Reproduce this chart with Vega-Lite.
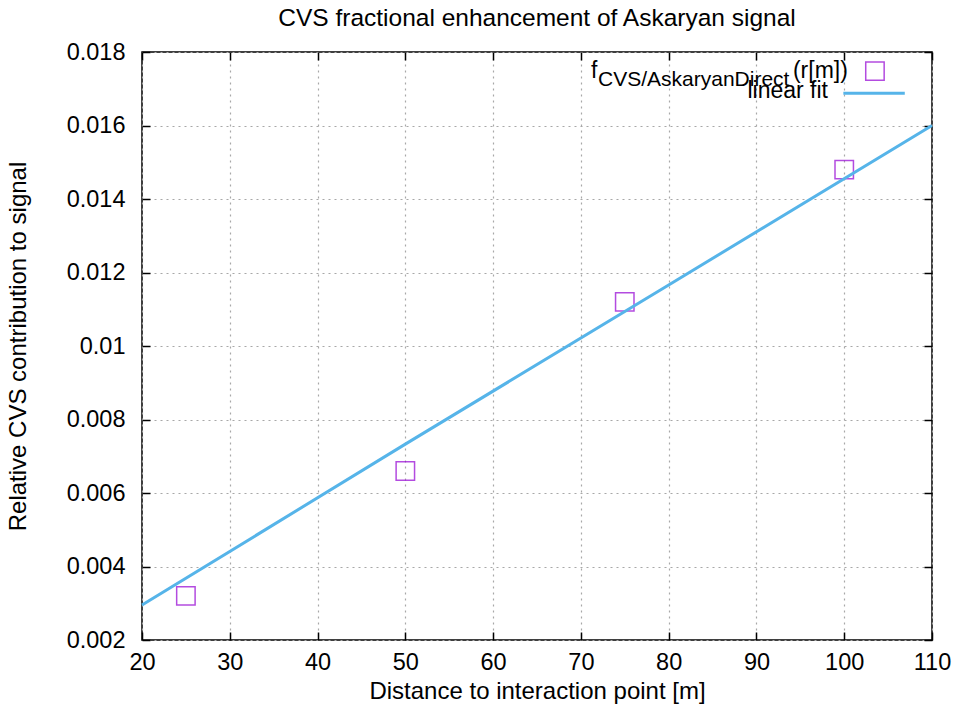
{
  "$schema": "https://vega.github.io/schema/vega-lite/v6.json",
  "width": 790,
  "height": 588,
  "autosize": {"type": "none"},
  "padding": {"left": 142, "top": 52, "right": 25, "bottom": 67},
  "background": "white",
  "title": {"text": "CVS fractional enhancement of Askaryan signal", "font": "Liberation Sans", "fontSize": 24.5, "fontWeight": "normal", "color": "#000", "offset": 9},
  "config": {
    "view": {"stroke": "#000", "strokeWidth": 1.5},
    "axis": {
      "labelFont": "Liberation Sans", "labelFontSize": 23.5, "labelColor": "#000",
      "titleFont": "Liberation Sans", "titleFontSize": 24, "titleFontWeight": "normal", "titleColor": "#000",
      "domain": false, "tickColor": "#000", "tickWidth": 1.5, "tickSize": -8,
      "gridColor": "#a8a8a8", "gridDash": [2, 4], "gridWidth": 1.2, "gridOpacity": 1
    }
  },
  "datasets": {
    "points": [
      {"distance": 25, "fraction": 0.0032},
      {"distance": 50, "fraction": 0.0066},
      {"distance": 75, "fraction": 0.0112},
      {"distance": 100, "fraction": 0.0148}
    ],
    "fit": [
      {"distance": 20, "fraction": 0.00295},
      {"distance": 50, "fraction": 0.00733},
      {"distance": 80, "fraction": 0.01166},
      {"distance": 110, "fraction": 0.0160}
    ]
  },
  "layer": [
    {
      "data": {"name": "points"},
      "mark": {"type": "point", "shape": "square", "filled": false, "size": 340, "stroke": "#9400d3", "strokeWidth": 1.5},
      "encoding": {
        "x": {"field": "distance", "type": "quantitative", "scale": {"domain": [20, 110], "nice": false, "zero": false},
              "axis": {"orient": "bottom", "title": "Distance to interaction point [m]", "values": [20,30,40,50,60,70,80,90,100,110], "labelPadding": 18, "titlePadding": 6, "labelFlush": false}},
        "y": {"field": "fraction", "type": "quantitative", "scale": {"domain": [0.002, 0.018], "nice": false, "zero": false},
              "axis": {"orient": "left", "title": "Relative CVS contribution to signal", "values": [0.002,0.004,0.006,0.008,0.01,0.012,0.014,0.016,0.018], "labelExpr": "format(datum.value, '.3~f')", "labelPadding": 25, "titlePadding": 36, "labelFlush": false}}
      }
    },
    {
      "data": {"name": "fit"},
      "mark": {"type": "line", "color": "#56b4e9", "strokeWidth": 3},
      "encoding": {
        "x": {"field": "distance", "type": "quantitative", "axis": {"orient": "top", "labels": false, "grid": false, "title": null, "values": [20,30,40,50,60,70,80,90,100,110]}},
        "y": {"field": "fraction", "type": "quantitative", "axis": {"orient": "right", "labels": false, "grid": false, "title": null, "values": [0.002,0.004,0.006,0.008,0.01,0.012,0.014,0.016,0.018]}}
      }
    },
    {
      "data": {"values": [{}]},
      "mark": {"type": "text", "text": "f", "font": "Liberation Sans", "fontSize": 23, "align": "left", "baseline": "alphabetic", "color": "#000"},
      "encoding": {"x": {"datum": 71.15, "type": "quantitative", "axis": null}, "y": {"datum": 0.017292, "type": "quantitative", "axis": null}}
    },
    {
      "data": {"values": [{}]},
      "mark": {"type": "text", "text": "CVS/AskaryanDirect", "font": "Liberation Sans", "fontSize": 21, "align": "left", "baseline": "alphabetic", "color": "#000"},
      "encoding": {"x": {"datum": 71.95, "type": "quantitative", "axis": null}, "y": {"datum": 0.017075, "type": "quantitative", "axis": null}}
    },
    {
      "data": {"values": [{}]},
      "mark": {"type": "text", "text": "(r[m])", "font": "Liberation Sans", "fontSize": 23, "align": "left", "baseline": "alphabetic", "color": "#000"},
      "encoding": {"x": {"datum": 94.16, "type": "quantitative", "axis": null}, "y": {"datum": 0.017292, "type": "quantitative", "axis": null}}
    },
    {
      "data": {"values": [{}]},
      "mark": {"type": "text", "text": "linear fit", "font": "Liberation Sans", "fontSize": 23, "align": "right", "baseline": "alphabetic", "color": "#000"},
      "encoding": {"x": {"datum": 98.15, "type": "quantitative", "axis": null}, "y": {"datum": 0.016748, "type": "quantitative", "axis": null}}
    },
    {
      "data": {"values": [{}]},
      "mark": {"type": "point", "shape": "square", "filled": false, "size": 340, "stroke": "#9400d3", "strokeWidth": 1.5},
      "encoding": {"x": {"datum": 103.5, "type": "quantitative", "axis": null}, "y": {"datum": 0.01748, "type": "quantitative", "axis": null}}
    },
    {
      "data": {"values": [{}]},
      "mark": {"type": "rule", "color": "#56b4e9", "strokeWidth": 3},
      "encoding": {"x": {"datum": 99.9, "type": "quantitative", "axis": null}, "x2": {"datum": 106.9}, "y": {"datum": 0.01688, "type": "quantitative", "axis": null}}
    }
  ],
  "resolve": {"axis": {"x": "independent", "y": "independent"}}
}
